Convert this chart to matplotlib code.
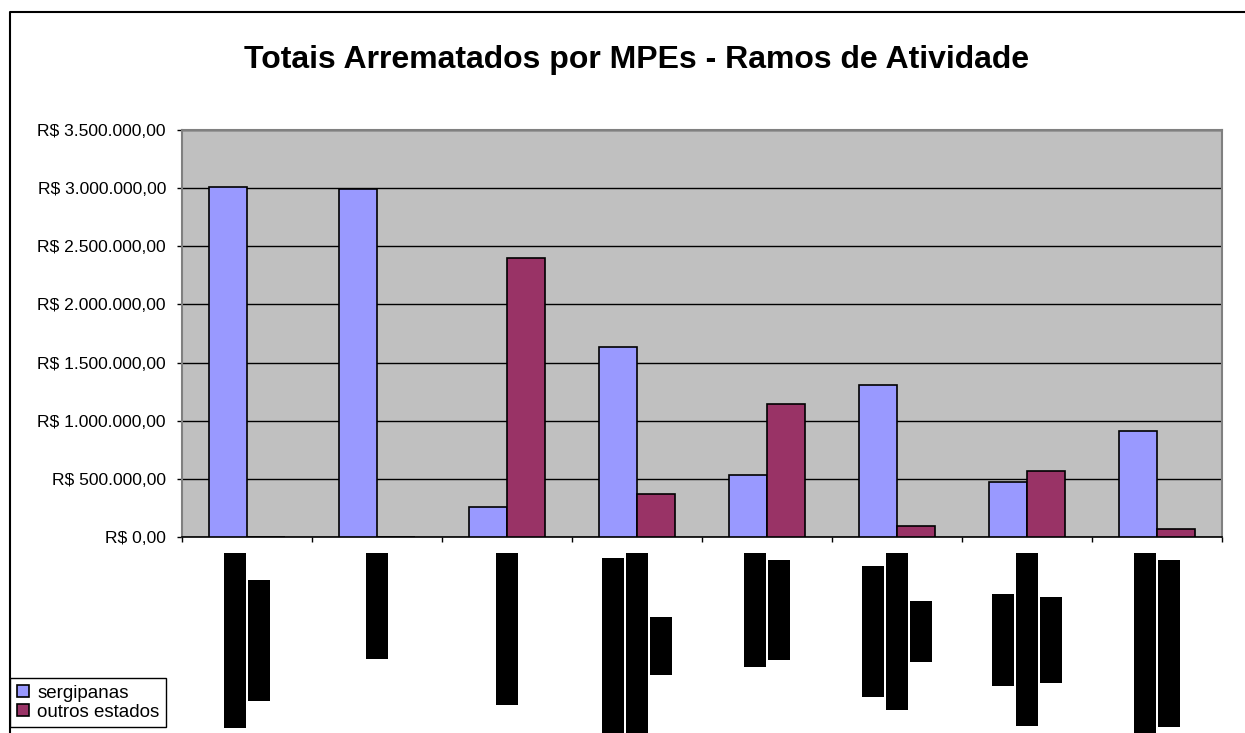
import matplotlib
matplotlib.use('Agg')
import matplotlib.pyplot as plt
import matplotlib.transforms as mtransforms
from matplotlib.lines import Line2D
from matplotlib.ticker import FuncFormatter, MultipleLocator
import numpy as np

plt.rcParams['font.family'] = ['Liberation Sans', 'DejaVu Sans']

titulo = 'Totais Arrematados por MPEs - Ramos de Atividade'
ramos = [
    'Material de Construção em\nGeral e Ferragens',
    'Serviços Gerais',
    'Equipamentos Médicos',
    'Gêneros Alimentícios, Café\nHortifrutigranjeiros, Carnes e\nBebidas',
    'Material de Copa\ne Descartáveis',
    'Equipamentos de TI\nMateriais de Informática\nDiversos',
    'Automóveis e\nPeças Automotivas, Pneus\ne Acessórios',
    'Material de Expediente e de\nSuprimentos de Escritório',
]
sergipanas = [3010000, 2990000, 255000, 1630000, 535000, 1310000, 470000, 915000]
outros_estados = [0, 0, 2400000, 370000, 1140000, 95000, 570000, 70000]

W, H = 1245, 733
fig = plt.figure(figsize=(W / 100, H / 100), dpi=100)
ax = fig.add_axes([182 / W, 1 - 537 / H, (1222 - 182) / W, (537 - 130) / H])
ax.set_facecolor('#C0C0C0')

x = np.arange(len(ramos))
w = 0.292
ax.bar(x - w / 2, sergipanas, w, color='#9999FF', edgecolor='black', lw=1.2,
       label='sergipanas', zorder=3)
ax.bar(x + w / 2, outros_estados, w, color='#993366', edgecolor='black', lw=1.2,
       label='outros estados', zorder=3)

ax.set_xlim(-0.5, len(ramos) - 0.5)
ax.set_ylim(0, 3500000)
ax.yaxis.set_major_locator(MultipleLocator(500000))
ax.yaxis.grid(True, color='black', lw=1)
ax.set_axisbelow(True)


def reais(v, pos):
    s = f'{v:,.2f}'.replace(',', '#').replace('.', ',').replace('#', '.')
    return 'R$ ' + s


ax.yaxis.set_major_formatter(FuncFormatter(reais))
ax.set_xticks(np.arange(-0.5, len(ramos), 1.0))
ax.set_xticklabels([])
ax.tick_params(axis='both', direction='out', length=3.6, width=1, color='black')
ax.tick_params(axis='y', labelsize=12.6, pad=8)

for lado in ['top', 'right', 'left']:
    ax.spines[lado].set_color('#808080')
    ax.spines[lado].set_linewidth(1.5)
ax.spines['bottom'].set_color('black')
ax.spines['bottom'].set_linewidth(1.2)

# rotulos das categorias (linhas verticais sobre fundo preto)
renderer = fig.canvas.get_renderer()
base = mtransforms.blended_transform_factory(ax.transData, ax.transAxes)
for i, ramo in enumerate(ramos):
    linhas = ramo.split('\n')
    n = len(linhas)
    textos = []
    for j, linha in enumerate(linhas):
        dx = (j - (n - 1) / 2) * 24 / 100
        tr = base + mtransforms.ScaledTranslation(dx, -20 / 100, fig.dpi_scale_trans)
        t = ax.text(i, 0, linha, rotation=90, ha='center', va='top', transform=tr,
                    fontsize=10, color='black', clip_on=False,
                    bbox=dict(boxstyle='square,pad=0.27', fc='black', ec='none'))
        textos.append((t, dx))
    alturas = [t.get_window_extent(renderer).height for t, _ in textos]
    hmax = max(alturas)
    for (t, dx), h in zip(textos, alturas):
        t.set_transform(base + mtransforms.ScaledTranslation(
            dx, (-20 - (hmax - h) / 2) / 100, fig.dpi_scale_trans))

fig.text(637 / W, 1 - 60 / H, titulo, ha='center', va='center',
         fontsize=23, fontweight='bold')

fig.add_artist(Line2D([10 / W, 10 / W, 1], [0, 1 - 12 / H, 1 - 12 / H],
                      transform=fig.transFigure, color='black', lw=1.5))

leg = fig.legend(loc='upper left', bbox_to_anchor=(10 / W, 1 - 678 / H),
                 frameon=True, fancybox=False, edgecolor='black', framealpha=1,
                 borderaxespad=0, fontsize=13.5, handlelength=0.65, handleheight=0.65,
                 handletextpad=0.45, borderpad=0.35, labelspacing=0.12)
leg.get_frame().set_linewidth(1)

fig.savefig('out.png', dpi=100)
